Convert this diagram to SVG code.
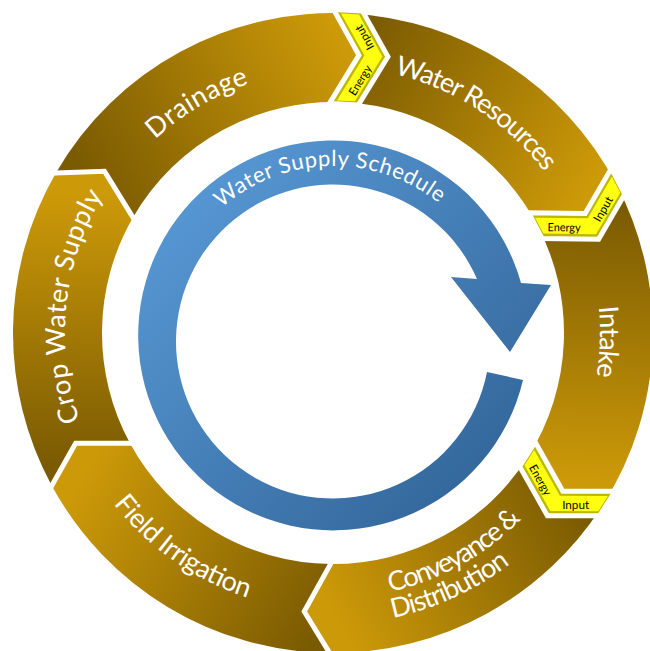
<svg xmlns="http://www.w3.org/2000/svg" width="650" height="651" viewBox="0 0 650 651">
<defs>
<style>
.seg{stroke:none}
.lbl{font-family:Lato,"Open Sans","Liberation Sans",sans-serif;font-size:27px;fill:#ffffff}
.wss{font-family:Lato,"Open Sans","Liberation Sans",sans-serif;font-size:22px;fill:#ffffff}
.tag{font-family:Lato,"Open Sans","Liberation Sans",sans-serif;font-size:11.5px;fill:#000000}
.sep{fill:none;stroke:#ffffff;stroke-width:5;stroke-linejoin:miter}
.bandOuter{fill:#BDB700;stroke:#ffffff;stroke-width:5;stroke-linejoin:miter}
.bandInner{fill:#FFFF10}
</style>
<linearGradient id="gDrain" gradientUnits="userSpaceOnUse" x1="94.8" y1="195.5" x2="347.4" y2="58.4"><stop offset="0" stop-color="#7B5B02"/><stop offset="1" stop-color="#CC9908"/></linearGradient>
<linearGradient id="gWR" gradientUnits="userSpaceOnUse" x1="347.4" y1="58.4" x2="576.5" y2="205.2"><stop offset="0" stop-color="#7B5B02"/><stop offset="1" stop-color="#CC9908"/></linearGradient>
<linearGradient id="gIntake" gradientUnits="userSpaceOnUse" x1="576.5" y1="205.2" x2="565.7" y2="479.5"><stop offset="0" stop-color="#7B5B02"/><stop offset="1" stop-color="#CC9908"/></linearGradient>
<linearGradient id="gConv" gradientUnits="userSpaceOnUse" x1="565.7" y1="479.5" x2="330.1" y2="608"><stop offset="0" stop-color="#7B5B02"/><stop offset="1" stop-color="#CC9908"/></linearGradient>
<linearGradient id="gField" gradientUnits="userSpaceOnUse" x1="330.1" y1="608" x2="91.3" y2="464.2"><stop offset="0" stop-color="#7B5B02"/><stop offset="1" stop-color="#CC9908"/></linearGradient>
<linearGradient id="gCrop" gradientUnits="userSpaceOnUse" x1="91.3" y1="464.2" x2="94.8" y2="195.5"><stop offset="0" stop-color="#7B5B02"/><stop offset="1" stop-color="#CC9908"/></linearGradient>
<linearGradient id="gBlue" gradientUnits="userSpaceOnUse" x1="150" y1="150" x2="520" y2="520"><stop offset="0" stop-color="#5B9DDA"/><stop offset="1" stop-color="#2F6194"/></linearGradient>
<path id="pDrain" d="M 86.82 425.53 A 263 263 0 0 1 532.69 161.85"/>
<path id="pWR" d="M 138.46 151.59 A 266 266 0 0 1 577.85 436.93"/>
<path id="pIntake" d="M 387.83 71.69 A 267 267 0 0 1 370.85 597.3"/>
<path id="pConv1" d="M 126.81 499.48 A 265 265 0 0 0 583.71 247.16"/>
<path id="pConv2" d="M 93.76 498.66 A 291 291 0 0 0 614.48 259.16"/>
<path id="pField" d="M 81.05 215.51 A 278 278 0 0 0 529.58 529.58"/>
<path id="pCrop" d="M 259.58 590.75 A 268 268 0 0 1 313.84 65.69"/>
<path id="pWSS" d="M 165.94 309.44 A 169 169 0 0 1 498.72 301.88"/>
<g id="band">
<polygon class="bandOuter" points="316.61,10 345.61,10 373.4,54.2 346.42,104 317.42,104 344.4,54.2"/>
<polygon class="bandInner" points="324.31,13.5 342.31,13.5 367.9,54.2 342.81,100.5 324.81,100.5 349.9,54.2"/>
<text class="tag" x="346.5" y="79" text-anchor="middle" dominant-baseline="central" transform="rotate(-61.5 346.5 79)" textLength="33" lengthAdjust="spacingAndGlyphs">Energy</text>
<text class="tag" x="348.5" y="36.5" text-anchor="middle" dominant-baseline="central" transform="rotate(-122.2 348.5 36.5)" textLength="27" lengthAdjust="spacingAndGlyphs">Input</text>
</g>
</defs>
<rect width="650" height="651" fill="#ffffff"/>

<g id="node-drainage">
<path class="seg" fill="url(#gDrain)" d="M 55.87 173 A 320 320 0 0 1 349.75 13.44 L 373.42 55.93 L 345.09 102.32 A 231 231 0 0 0 132.95 217.5 L 104.48 171.2 Z"/>
<text class="lbl"><textPath href="#pDrain" startOffset="50%" text-anchor="middle" textLength="110">Drainage</textPath></text>
</g>
<g id="node-water-resources">
<path class="seg" fill="url(#gWR)" d="M 349.75 13.44 A 320 320 0 0 1 616.33 184.25 L 591.87 226.3 L 537.53 225.62 A 231 231 0 0 0 345.09 102.32 L 373.42 55.93 Z"/>
<text class="lbl"><textPath href="#pWR" startOffset="50%" text-anchor="middle" textLength="183">Water Resources</textPath></text>
</g>
<g id="node-intake">
<path class="seg" fill="url(#gIntake)" d="M 616.33 184.25 A 320 320 0 0 1 603.78 503.52 L 555.14 503.45 L 528.47 456.09 A 231 231 0 0 0 537.53 225.62 L 591.87 226.3 Z"/>
<text class="lbl"><textPath href="#pIntake" startOffset="50%" text-anchor="middle" textLength="70">Intake</textPath></text>
</g>
<g id="node-conveyance">
<path class="seg" fill="url(#gConv)" d="M 603.78 503.52 A 320 320 0 0 1 329.65 652.98 L 304.22 611.52 L 330.58 563.99 A 231 231 0 0 0 528.47 456.09 L 555.14 503.45 Z"/>
<text class="lbl"><textPath href="#pConv1" startOffset="50%" text-anchor="middle" textLength="152">Conveyance &amp;</textPath></text>
<text class="lbl"><textPath href="#pConv2" startOffset="50%" text-anchor="middle" textLength="130">Distribution</textPath></text>
</g>
<g id="node-field-irrigation">
<path class="seg" fill="url(#gField)" d="M 329.65 652.98 A 320 320 0 0 1 51.78 485.69 L 75.64 443.3 L 129.99 443.23 A 231 231 0 0 0 330.58 563.99 L 304.22 611.52 Z"/>
<text class="lbl"><textPath href="#pField" startOffset="50%" text-anchor="middle" textLength="166">Field Irrigation</textPath></text>
</g>
<g id="node-crop-water-supply">
<path class="seg" fill="url(#gCrop)" d="M 51.78 485.69 A 320 320 0 0 1 55.87 173 L 104.48 171.2 L 132.95 217.5 A 231 231 0 0 0 129.99 443.23 L 75.64 443.3 Z"/>
<text class="lbl"><textPath href="#pCrop" startOffset="50%" text-anchor="middle" textLength="234">Crop Water Supply</textPath></text>
</g>

<g id="connectors">
<polyline class="sep" points="333.5,659.2 304.22,611.52 334.5,556.9"/>
<polyline class="sep" points="48.2,492 75.64,443.3 138.1,443.2"/>
<polyline class="sep" points="48.6,173.3 104.48,171.2 137.2,224.4"/>
<use href="#band" transform="rotate(3 333 333)"/>
<use href="#band" transform="rotate(62.3 333 333)"/>
<use href="#band" transform="rotate(122.2 333 333)"/>
</g>

<g id="node-water-supply-schedule">
<path fill="url(#gBlue)" d="M 523 380 A 195 195 0 1 1 521 283 L 551 285 L 510 352 L 451 277 L 477 279 A 157 157 0 1 0 487 372 Z"/>
<text class="wss"><textPath href="#pWSS" startOffset="50%" text-anchor="middle" textLength="236">Water Supply Schedule</textPath></text>
</g>
</svg>
